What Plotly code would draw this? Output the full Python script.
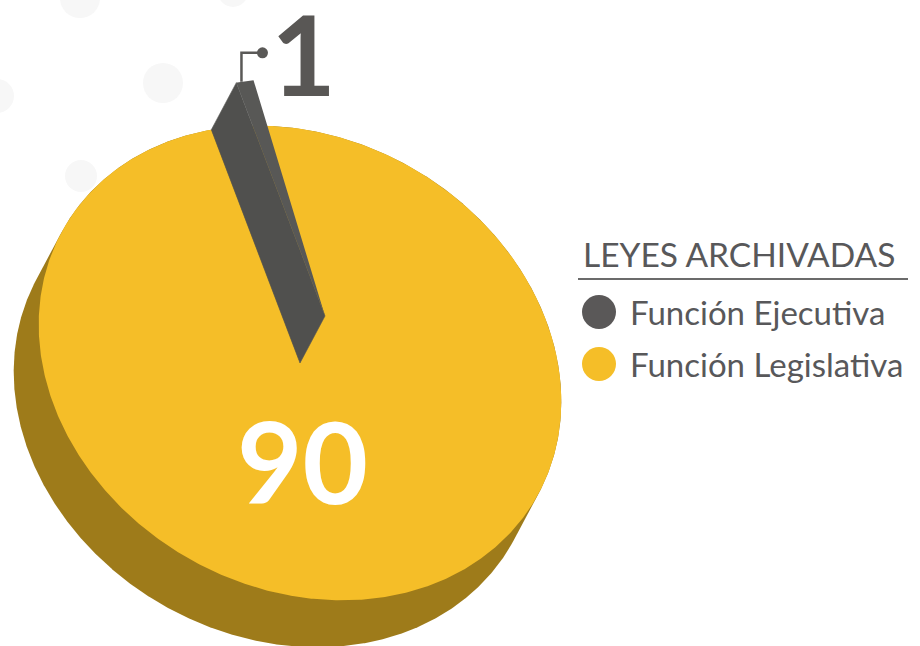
import numpy as np
import plotly.graph_objects as go

# ---------------- data ----------------
categories = ["Función Ejecutiva", "Función Legislativa"]
values = [1, 90]
slice_colors = ["#50504E", "#F5BE28"]
top_colors = ["#585856", "#F5BE28"]
side_color = "#9E7B1A"
legend_title = "LEYES ARCHIVADAS"
value_labels = [str(v) for v in values]

# ---------------- projection of the tilted 3D pie ----------------
W, H = 920, 646
CX, CY = 300.0, 363.0          # centre of top face (screen px, y down)
A, B = 272.0, 225.0            # semi-axes of projected disk
TH = np.deg2rad(29.6)          # tilt of major axis
DEPTH = np.array([-25.0, 47.0])  # extrusion vector (thickness)
START = 225.0                  # start angle of first slice (deg)

def proj(t_deg, r=1.0):
    t = np.deg2rad(np.asarray(t_deg, dtype=float))
    X = A * r * np.cos(t)
    Y = B * r * np.sin(t)
    x = CX + X * np.cos(TH) - Y * np.sin(TH)
    y = CY + X * np.sin(TH) + Y * np.cos(TH)
    return x, y

def normal(t_deg):
    t = np.deg2rad(np.asarray(t_deg, dtype=float))
    nx_l = np.cos(t) / A
    ny_l = np.sin(t) / B
    nx = nx_l * np.cos(TH) - ny_l * np.sin(TH)
    ny = nx_l * np.sin(TH) + ny_l * np.cos(TH)
    return nx, ny

total = sum(values)
spans = [360.0 * v / total for v in values]
starts = [START + sum(spans[:i]) for i in range(len(values))]

fig = go.Figure()

# side (extrusion) of the pie body
ts = np.linspace(0, 360, 1441)
px, py = proj(ts)
nx, ny = normal(ts)
mask = (nx * DEPTH[0] + ny * DEPTH[1]) > 0
sx = np.where(mask, px + DEPTH[0], px)
sy = np.where(mask, py + DEPTH[1], py)
fig.add_trace(go.Scatter(x=sx, y=sy, fill="toself", fillcolor=side_color,
                         mode="lines", line=dict(width=0), hoverinfo="skip",
                         showlegend=False))

# top face of big slice (Legislativa)
i = 1
tt = np.linspace(starts[i], starts[i] + spans[i], 800)
ax_, ay_ = proj(tt)
fig.add_trace(go.Scatter(x=np.r_[CX, ax_, CX], y=np.r_[CY, ay_, CY], fill="toself",
                         fillcolor=top_colors[i], mode="lines", line=dict(width=0),
                         hoverinfo="skip", showlegend=False))

# raised small slice (Ejecutiva)
i = 0
U = -DEPTH
rx, ry = proj(starts[i])
fig.add_trace(go.Scatter(x=[CX, rx, rx + U[0], CX + U[0], CX],
                         y=[CY, ry, ry + U[1], CY + U[1], CY],
                         fill="toself", fillcolor=slice_colors[i], mode="lines",
                         line=dict(width=0.6, color="#555553"), hoverinfo="skip",
                         showlegend=False))
tt = np.linspace(starts[i], starts[i] + spans[i], 40)
gx, gy = proj(tt)
fig.add_trace(go.Scatter(x=np.r_[CX, gx, CX] + U[0], y=np.r_[CY, gy, CY] + U[1],
                         fill="toself", fillcolor=top_colors[i], mode="lines",
                         line=dict(width=0), hoverinfo="skip", showlegend=False))

# leader line with dot for small slice
mx, my = proj(starts[0] + spans[0] * 0.3)
lx, ly = mx + U[0], my + U[1]
fig.add_trace(go.Scatter(x=[lx, lx, lx + 21], y=[ly, ly - 29, ly - 29], mode="lines",
                         line=dict(color="#5A5957", width=2.5), hoverinfo="skip",
                         showlegend=False))
fig.add_trace(go.Scatter(x=[lx + 21], y=[ly - 29], mode="markers",
                         marker=dict(size=11, color="#5A5957"), hoverinfo="skip",
                         showlegend=False))

# value labels
fig.add_annotation(x=303, y=52, text="<b>%s</b>" % value_labels[0], showarrow=False,
                   font=dict(family="Lato", size=112, color="#595755"),
                   xanchor="center", yanchor="middle")
fig.add_annotation(x=302, y=460, text="<b>%s</b>" % value_labels[1], showarrow=False,
                   font=dict(family="Lato", size=113, color="#FFFFFF"),
                   xanchor="center", yanchor="middle")

# custom legend
fig.add_annotation(x=581, y=254, text=legend_title, showarrow=False, xanchor="left",
                   yanchor="middle", font=dict(family="Lato", size=33.5, color="#58585A"))
fig.add_shape(type="line", x0=578, x1=908, y0=279, y1=279,
              line=dict(color="#6B6B6B", width=2))
leg_y = [312, 364]
leg_colors = ["#5A5858", "#F5BE28"]
fig.add_trace(go.Scatter(x=[599, 599], y=leg_y, mode="markers",
                         marker=dict(size=34, color=leg_colors), hoverinfo="skip",
                         showlegend=False))
for name, yy in zip(categories, leg_y):
    fig.add_annotation(x=628, y=yy, text=name, showarrow=False, xanchor="left",
                       yanchor="middle", font=dict(family="Lato", size=33, color="#58585A"))

# faint decorative background dots
for (cx, cy, r) in [(80, -2, 20), (163, 83, 20), (-3, 96, 17), (81, 176, 16), (233, -8, 15)]:
    fig.add_shape(type="circle", x0=cx - r, x1=cx + r, y0=cy - r, y1=cy + r,
                  fillcolor="#F7F7F7", line=dict(width=0), layer="below")

fig.update_layout(
    width=W, height=H, margin=dict(l=0, r=0, t=0, b=0),
    paper_bgcolor="white", plot_bgcolor="white",
    xaxis=dict(range=[0, W], visible=False, fixedrange=True),
    yaxis=dict(range=[H, 0], visible=False, fixedrange=True),
    showlegend=False,
)
fig.write_html("out.html", config={"displayModeBar": False},
               post_script="document.body.style.margin='0px';")
